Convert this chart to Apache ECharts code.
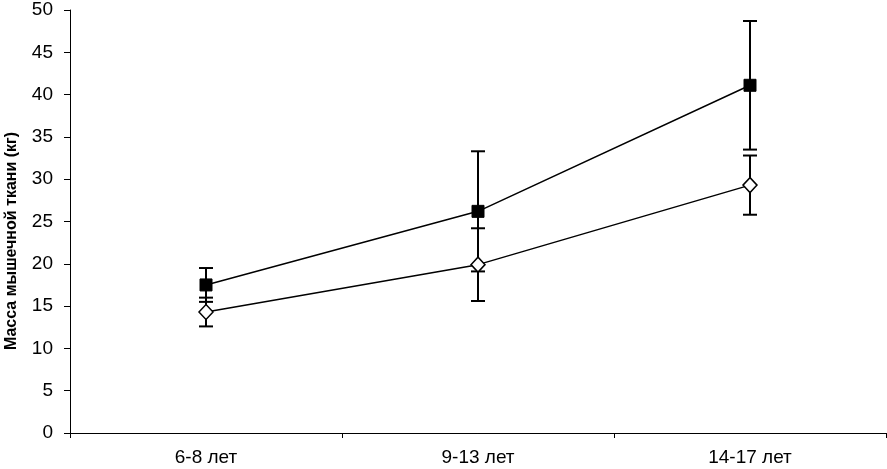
<!DOCTYPE html>
<html>
<head>
<meta charset="utf-8">
<script src="https://cdn.jsdelivr.net/npm/echarts@6/dist/echarts.min.js"></script>
<style>
html, body { margin: 0; padding: 0; background: #fff; }
#chart { width: 887px; height: 469px; }
</style>
</head>
<body>
<div id="chart"></div>
<script>
var categories = ['6-8 лет', '9-13 лет', '14-17 лет'];
var yTicks = [0, 5, 10, 15, 20, 25, 30, 35, 40, 45, 50];
var yTitle = 'Масса мышечной ткани (кг)';
// среднее и ошибка (±)
var seriesA = [17.5, 26.2, 41.1];
var errA = [2.0, 7.1, 7.6];
var seriesB = [14.3, 19.9, 29.3];
var errB = [1.7, 4.3, 3.5];

function errData(vals, errs) {
  return vals.map(function (v, i) { return [i, v - errs[i], v + errs[i]]; });
}

function renderErr(params, api) {
  var x = api.value(0);
  var lo = api.coord([x, api.value(1)]);
  var hi = api.coord([x, api.value(2)]);
  var w = 7;
  var style = { stroke: '#000', lineWidth: 2 };
  return {
    type: 'group',
    children: [
      { type: 'line', shape: { x1: lo[0], y1: lo[1], x2: hi[0], y2: hi[1] }, style: style },
      { type: 'line', shape: { x1: lo[0] - w, y1: lo[1], x2: lo[0] + w, y2: lo[1] }, style: style },
      { type: 'line', shape: { x1: hi[0] - w, y1: hi[1], x2: hi[0] + w, y2: hi[1] }, style: style }
    ]
  };
}

var chart = echarts.init(document.getElementById('chart'));
chart.setOption({
  animation: false,
  grid: { left: 70, right: 1, top: 10, bottom: 36, outerBoundsMode: 'none', containLabel: false },
  graphic: [{
    type: 'text',
    x: 12,
    y: 241,
    rotation: Math.PI / 2,
    style: {
      text: yTitle,
      fill: '#000',
      font: 'bold 16px "Liberation Sans", Arial',
      align: 'center',
      verticalAlign: 'middle'
    }
  }],
  xAxis: {
    type: 'category',
    data: categories,
    boundaryGap: true,
    axisLine: { lineStyle: { color: '#000', width: 1 } },
    axisTick: { show: true, length: 5, lineStyle: { color: '#000' } },
    axisLabel: { color: '#000', fontFamily: 'Liberation Sans, Arial', fontSize: 19, margin: 15 }
  },
  yAxis: {
    type: 'value',
    min: yTicks[0],
    max: yTicks[yTicks.length - 1],
    interval: 5,
    axisLine: { show: true, lineStyle: { color: '#000', width: 1 } },
    axisTick: { show: true, length: 6, lineStyle: { color: '#000' } },
    axisLabel: { color: '#000', fontFamily: 'Liberation Sans, Arial', fontSize: 19, margin: 17 },
    splitLine: { show: false }
  },
  series: [
    {
      type: 'custom',
      renderItem: renderErr,
      data: errData(seriesA, errA),
      z: 1
    },
    {
      type: 'custom',
      renderItem: renderErr,
      data: errData(seriesB, errB),
      z: 1
    },
    {
      type: 'line',
      data: seriesA,
      symbol: 'rect',
      symbolSize: 12,
      lineStyle: { color: '#000', width: 1.5 },
      itemStyle: { color: '#000', borderColor: '#000', borderWidth: 1 },
      z: 3
    },
    {
      type: 'line',
      data: seriesB,
      symbol: 'diamond',
      symbolSize: [14, 15],
      lineStyle: { color: '#000', width: 1.5 },
      itemStyle: { color: '#fff', borderColor: '#000', borderWidth: 1.5 },
      z: 3
    }
  ]
});
</script>
</body>
</html>
